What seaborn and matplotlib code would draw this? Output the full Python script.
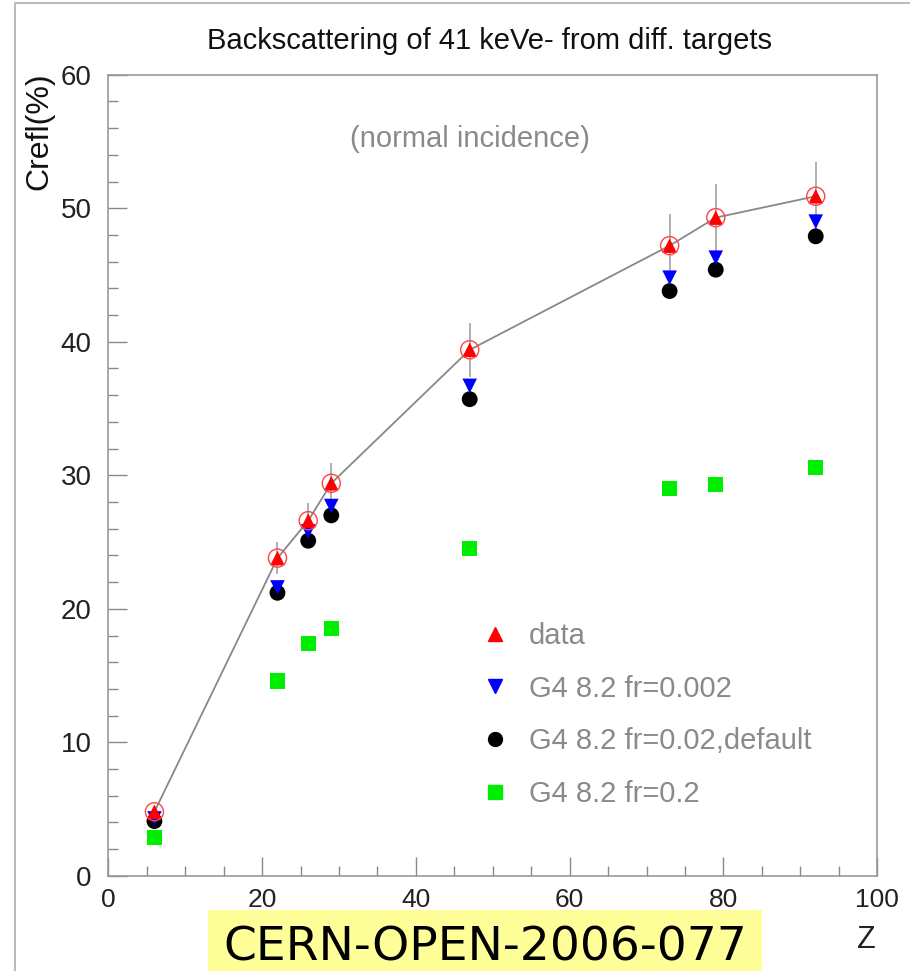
"""Backscattering of 41 keV electrons from different targets (CERN-OPEN-2006-077)."""

import matplotlib

matplotlib.use("Agg")
import matplotlib.pyplot as plt
import pandas as pd
import seaborn as sns
from matplotlib.lines import Line2D
from matplotlib.ticker import MultipleLocator

Z = [6, 22, 26, 29, 47, 73, 79, 92]
DATA = [4.8, 23.8, 26.6, 29.4, 39.4, 47.2, 49.3, 50.9]
DATA_ERR = [0.25, 1.2, 1.3, 1.5, 2.0, 2.4, 2.5, 2.6]
FR_0002 = [4.3, 21.6, 25.8, 27.7, 36.7, 44.8, 46.3, 49.0]
FR_002 = [4.1, 21.2, 25.1, 27.0, 35.7, 43.8, 45.4, 47.9]
FR_02 = [2.85, 14.6, 17.4, 18.5, 24.5, 29.0, 29.3, 30.6]

LABELS = ["data", "G4 8.2 fr=0.002", "G4 8.2 fr=0.02,default", "G4 8.2 fr=0.2"]

NARROW = ["Liberation Sans Narrow", "Liberation Sans", "DejaVu Sans"]
GRAY = "#8a8a8a"


def main() -> None:
    sns.set_theme(style="white")
    plt.rcParams["font.family"] = ["Liberation Sans", "DejaVu Sans"]

    df = pd.DataFrame(
        {"Z": Z, "data": DATA, "err": DATA_ERR, "fr0002": FR_0002, "fr002": FR_002, "fr02": FR_02}
    )

    fig = plt.figure(figsize=(9.10, 9.71), dpi=100)
    ax = fig.add_axes([0.119, 0.098, 0.845, 0.825])

    sns.lineplot(data=df, x="Z", y="data", ax=ax, color="#888888", linewidth=1.3, zorder=2)
    ax.errorbar(df["Z"], df["data"], yerr=df["err"], fmt="none", ecolor="#aaaaaa",
                elinewidth=1.3, capsize=0, zorder=1)

    sns.scatterplot(data=df, x="Z", y="fr02", ax=ax, marker="s", color="#00ee00",
                    s=120, edgecolor="none", zorder=3)
    sns.scatterplot(data=df, x="Z", y="fr002", ax=ax, marker="o", color="black",
                    s=130, edgecolor="none", zorder=4)
    sns.scatterplot(data=df, x="Z", y="fr0002", ax=ax, marker="v", color="#0000ff",
                    s=110, edgecolor="none", zorder=5)
    sns.scatterplot(data=df, x="Z", y="data", ax=ax, marker="^", color="#ff0000",
                    s=110, edgecolor="none", zorder=6)
    sns.scatterplot(data=df, x="Z", y="data", ax=ax, marker="o", facecolor="none",
                    edgecolor="#ff4444", s=170, linewidth=1.0, zorder=7)

    ax.set_xlim(0, 100)
    ax.set_ylim(0, 60)
    ax.xaxis.set_major_locator(MultipleLocator(20))
    ax.xaxis.set_minor_locator(MultipleLocator(5))
    ax.yaxis.set_major_locator(MultipleLocator(10))
    ax.yaxis.set_minor_locator(MultipleLocator(2))
    ax.tick_params(which="both", direction="in", colors="#888888", top=False, right=False,
                   left=True, bottom=True)
    ax.tick_params(which="major", length=14, width=1.0)
    ax.tick_params(which="minor", length=7, width=1.0)
    ax.tick_params(axis="y", labelcolor="#222222", labelsize=20, pad=12)
    ax.tick_params(axis="x", labelcolor="#222222", labelsize=19, pad=9)
    for lab in ax.get_xticklabels():
        lab.set_family(NARROW)
    for spine in ax.spines.values():
        spine.set_color("#999999")
        spine.set_linewidth(1.2)

    ax.set_xlabel("")
    ax.set_ylabel("")
    fig.text(0.043, 0.925, "Crefl(%)", rotation=90, ha="center", va="top", fontsize=23,
             color="#111111")
    fig.text(0.952, 0.032, "Z", ha="center", va="center", fontsize=22, family=NARROW,
             color="#222222")
    fig.text(0.538, 0.958, "Backscattering of 41 keVe- from diff. targets", ha="center",
             va="center", fontsize=21, family=NARROW, color="#111111")
    ax.text(0.47, 0.92, "(normal incidence)", transform=ax.transAxes, ha="center",
            va="center", fontsize=21, color=GRAY, family=NARROW)

    handles = [
        Line2D([], [], linestyle="none", marker="^", color="#ff0000", markersize=10),
        Line2D([], [], linestyle="none", marker="v", color="#0000ff", markersize=10),
        Line2D([], [], linestyle="none", marker="o", color="black", markersize=10),
        Line2D([], [], linestyle="none", marker="s", color="#00ee00", markersize=10),
    ]
    leg = ax.legend(handles, LABELS, loc="upper left", bbox_to_anchor=(0.452, 0.35),
                    frameon=False, fontsize=21, labelspacing=0.85, handletextpad=0.7,
                    labelcolor=GRAY, handlelength=0.9)
    for t in leg.get_texts():
        t.set_family(NARROW)

    fig.text(0.533, 0.024, "CERN-OPEN-2006-077", ha="center", va="center", fontsize=34,
             family="DejaVu Sans", color="black",
             bbox=dict(boxstyle="square,pad=0.32", facecolor="#ffff99", edgecolor="none"))

    fig.add_artist(Line2D([0.016, 0.016], [0, 0.997], color="#bbbbbb", linewidth=1.5))
    fig.add_artist(Line2D([0.016, 1.0], [0.997, 0.997], color="#bbbbbb", linewidth=1.5))

    fig.savefig("out.png", dpi=100)
    plt.close(fig)


if __name__ == "__main__":
    main()
